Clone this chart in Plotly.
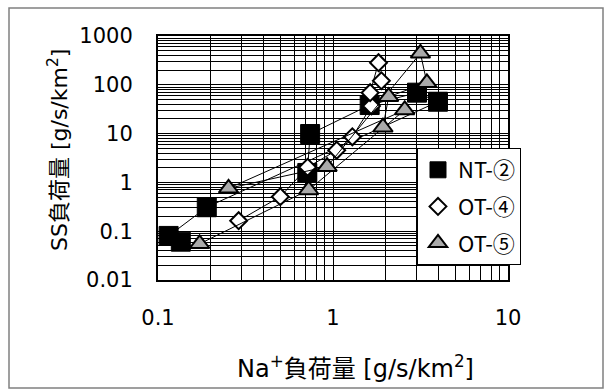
import plotly.graph_objects as go

# ---- data ----
nt2_na = [0.135, 0.115, 0.19, 3.98, 3.02, 1.62, 0.74, 0.713]
nt2_ss = [0.061, 0.080, 0.31, 45, 69, 38.5, 9.8, 1.56]

ot4_na = [0.289, 0.50, 0.716, 1.05, 1.29, 1.66, 1.63, 1.82, 1.89]
ot4_ss = [0.164, 0.51, 2.04, 4.55, 8.6, 36.8, 68.9, 284, 121]

ot5_na = [0.173, 0.726, 2.57, 0.253, 0.925, 3.16, 3.44, 2.08, 1.93]
ot5_ss = [0.055, 0.70, 30.5, 0.757, 2.1, 442, 110, 57, 13.5]

series_names = ["NT-②", "OT-④", "OT-⑤"]
x_ticks = [0.1, 1, 10]
x_ticklabels = ["0.1", "1", "10"]
y_ticks = [0.01, 0.1, 1, 10, 100, 1000]
y_ticklabels = ["0.01", "0.1", "1", "10", "100", "1000"]
x_title = "Na<sup>+</sup>負荷量 [g/s/km<sup>2</sup>]"
y_title = "SS負荷量 [g/s/km<sup>2</sup>]"

# ---- layout geometry ----
W, H = 606, 390
L, R, T, B = 158, 98, 36, 110
PW, PH = W - L - R, H - T - B


def px(xp):
    return (xp - L) / PW


def py(yp):
    return (H - B - yp) / PH


FONT = "DejaVu Sans, Noto Sans CJK JP, sans-serif"
LEGEND_FONT = "Noto Sans CJK JP, DejaVu Sans, sans-serif"


def minor_vals(lo, hi):
    vals = []
    for e in range(lo, hi):
        for m in range(2, 10):
            vals.append(m * 10 ** e)
    return vals


fig = go.Figure()

styles = [
    dict(symbol="square", size=19, color="black", line=dict(color="black", width=1)),
    dict(symbol="diamond", size=13, color="white", line=dict(color="black", width=2)),
    dict(symbol="triangle-up", size=17, color="#aaaaaa", line=dict(color="black", width=2)),
]
data = [(nt2_na, nt2_ss), (ot4_na, ot4_ss), (ot5_na, ot5_ss)]

for i, ((xs, ys), st, name) in enumerate(zip(data, styles, series_names)):
    fig.add_trace(go.Scatter(x=xs, y=ys, mode="lines",
                             line=dict(color="black", width=1),
                             showlegend=False, hoverinfo="skip"))
    fig.add_trace(go.Scatter(x=xs, y=ys, mode="markers", name=name,
                             marker=st, legendgroup=name))

axis_common = dict(
    type="log",
    showline=True, mirror=True, linecolor="black", linewidth=2,
    showgrid=True, gridcolor="black", gridwidth=1,
    ticks="", zeroline=False,
    tickfont=dict(family=FONT, size=21, color="black"),
)

fig.update_xaxes(
    **axis_common,
    range=[-1, 1],
    tickmode="array", tickvals=x_ticks, ticktext=x_ticklabels,
    ticklabelstandoff=18,
    minor=dict(tickmode="array", tickvals=minor_vals(-1, 1),
               showgrid=True, gridcolor="black", gridwidth=1, ticks=""),
)
fig.update_yaxes(
    **axis_common,
    range=[-2, 3],
    tickmode="array", tickvals=y_ticks, ticktext=y_ticklabels,
    ticklabelstandoff=19,
    minor=dict(tickmode="array", tickvals=minor_vals(-2, 3),
               showgrid=True, gridcolor="black", gridwidth=1, ticks=""),
)

fig.update_layout(
    width=W, height=H,
    margin=dict(l=L, r=R, t=T, b=B, pad=0),
    paper_bgcolor="white", plot_bgcolor="white",
    font=dict(family=FONT, size=21, color="black"),
    showlegend=True,
    legend=dict(
        x=px(417), y=py(148), xanchor="left", yanchor="top",
        bgcolor="white", bordercolor="black", borderwidth=1,
        font=dict(family=LEGEND_FONT, size=22, color="black"),
        tracegroupgap=5, itemwidth=30,
        entrywidth=75, entrywidthmode="pixels",
    ),
    annotations=[
        dict(text=x_title, x=px(355), y=py(367), xref="paper", yref="paper",
             xanchor="center", yanchor="middle", showarrow=False,
             font=dict(family=FONT, size=24, color="black")),
        dict(text=y_title, x=px(58), y=py(150), xref="paper", yref="paper",
             xanchor="center", yanchor="middle", showarrow=False, textangle=-90,
             font=dict(family=FONT, size=22, color="black")),
    ],
    shapes=[
        dict(type="rect", xref="paper", yref="paper",
             x0=px(9), x1=px(603), y0=py(388), y1=py(8),
             line=dict(color="#808080", width=1.5), fillcolor="rgba(0,0,0,0)",
             layer="below"),
    ],
)

fig.write_html("out.html")
